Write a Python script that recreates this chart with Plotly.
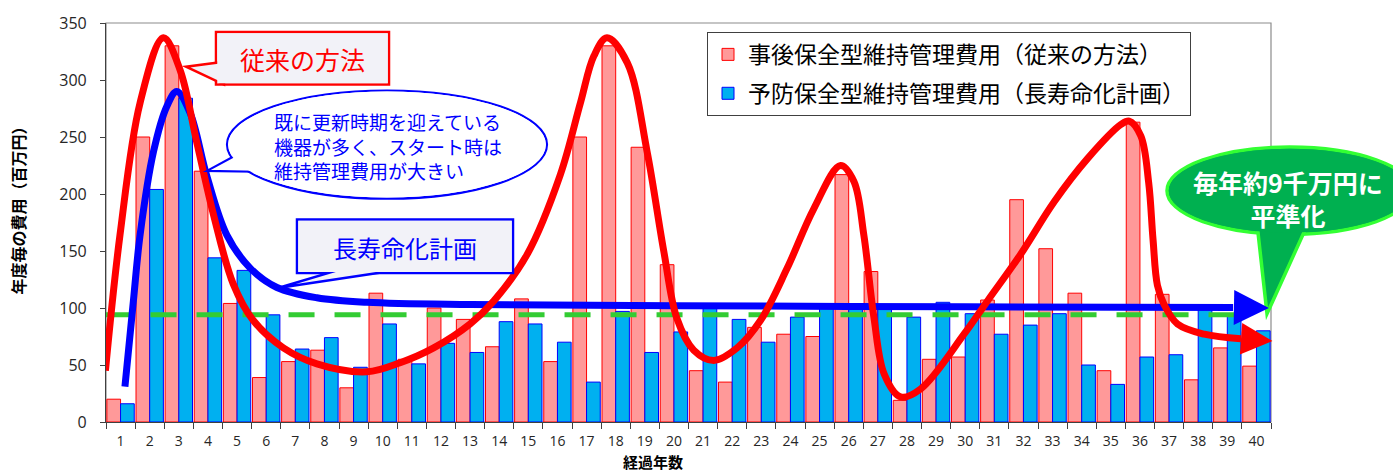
import plotly.graph_objects as go

# ---------------- data ----------------
years = list(range(1, 41))
tick_labels = [str(y) for y in years]

corrective_cost = [20, 250, 330, 220, 104, 39, 53, 63, 30, 113,
                   55, 100, 90, 66, 108, 53, 250, 330, 241, 138,
                   45, 35, 83, 77, 75, 217, 132, 19, 55, 57,
                   107, 195, 152, 113, 45, 263, 112, 37, 65, 49]
preventive_cost = [16, 204, 284, 144, 133, 94, 64, 74, 48, 86,
                   51, 69, 61, 88, 86, 70, 35, 97, 61, 79,
                   100, 90, 70, 92, 100, 100, 100, 92, 105, 95,
                   77, 85, 95, 50, 33, 57, 59, 100, 95, 80]

average_level = 94
avg_x = [0.45, 39.75]

red_curve_x = [0.48, 0.98, 1.67, 2.47, 3.04, 3.62, 4.19, 4.87, 5.56, 6.59, 7.74, 9.46,
               10.6, 11.75, 13.0, 13.81, 14.96, 16.1, 16.79, 17.25, 17.7, 18.4, 19.08,
               19.65, 20.1, 20.68, 21.37, 22.17, 22.97, 23.89, 24.8, 25.72, 26.18, 26.52,
               26.87, 27.22, 27.78, 28.47, 29.96, 30.76, 31.9, 33.05, 34.2, 35.35, 35.63,
               36.03, 36.3, 36.45, 36.6, 36.83, 37.29, 38.21, 39.47]
red_curve_y = [45, 164, 280, 337, 309, 245, 182, 121, 89, 65, 51, 44,
               52, 65, 86, 106, 147, 217, 280, 321, 337, 315, 237,
               150, 91, 63, 54, 65, 89, 135, 187, 225, 211, 164,
               91, 42, 22, 29, 77, 106, 147, 193, 231, 261, 264,
               251, 210, 160, 120, 103, 86, 77, 73]
red_arrow_tip = (40.55, 71)

blue_curve_x = [1.15, 1.44, 1.67, 2.13, 2.59, 2.93, 3.39, 3.96, 4.65, 5.45, 6.37, 7.74,
                9.46, 13.0, 20.0, 30.0, 39.2]
blue_curve_y = [31, 106, 164, 237, 277, 290, 271, 216, 164, 135, 118, 109,
                105, 103, 102, 101, 100.5]
blue_arrow_tip = (40.43, 100)

# ---------------- geometry helpers (pixel -> paper) ----------------
W, H = 1393, 473
L, R, T, B = 106, 1271, 20, 422


def px(x):
    return (x - L) / (R - L)


def py(y):
    return (B - y) / (B - T)


JP = "Noto Sans CJK JP"

fig = go.Figure()

fig.add_trace(go.Bar(
    x=years, y=corrective_cost, name="事後保全型維持管理費用（従来の方法）",
    marker=dict(color="#FF9999", line=dict(color="#FF0000", width=1)),
    legendgroup="a",
))
fig.add_trace(go.Bar(
    x=years, y=preventive_cost, name="予防保全型維持管理費用（長寿命化計画）",
    marker=dict(color="#00B0F0", line=dict(color="#0000FF", width=1)),
    legendgroup="b",
))
fig.add_trace(go.Scatter(
    x=avg_x, y=[average_level, average_level], mode="lines",
    line=dict(color="#33CC33", width=5, dash="26px,20px"),
    showlegend=False, hoverinfo="skip",
))
fig.add_trace(go.Scatter(
    x=blue_curve_x, y=blue_curve_y, mode="lines",
    line=dict(color="#0000FF", width=7, shape="spline", smoothing=1.0),
    showlegend=False, hoverinfo="skip",
))
fig.add_trace(go.Scatter(
    x=red_curve_x, y=red_curve_y, mode="lines",
    line=dict(color="#FF0000", width=7, shape="spline", smoothing=1.0),
    showlegend=False, hoverinfo="skip",
))

shapes = []
ann = []

# plot border (top / right, grey)
shapes.append(dict(type="rect", xref="paper", yref="paper", x0=0, x1=1, y0=0, y1=1,
                   line=dict(color="#8C8C8C", width=1.2), layer="below"))

# --- red callout box "従来の方法"
box_fill = "#F2F2F8"
lw = 2.5
shapes.append(dict(type="rect", xref="paper", yref="paper",
                   x0=px(216), x1=px(389), y0=py(82), y1=py(29),
                   fillcolor=box_fill, line=dict(color="#FF0000", width=lw), layer="above"))
shapes.append(dict(type="path", xref="paper", yref="paper",
                   path=f"M {px(224)},{py(59)} L {px(186)},{py(64)} L {px(224)},{py(82)} Z",
                   fillcolor=box_fill, line=dict(color="#FF0000", width=lw), layer="above"))
shapes.append(dict(type="rect", xref="paper", yref="paper",
                   x0=px(216 + lw / 2), x1=px(389 - lw / 2), y0=py(82 - lw / 2), y1=py(29 + lw / 2),
                   fillcolor=box_fill, line=dict(width=0), layer="above"))
ann.append(dict(xref="paper", yref="paper", x=px(302), y=py(56), text="従来の方法",
                xanchor="center", yanchor="middle",
                showarrow=False, font=dict(family=JP, size=25, color="#FF0000")))

# --- blue ellipse callout
lw2 = 2.2
shapes.append(dict(type="circle", xref="paper", yref="paper",
                   x0=px(227), x1=px(547), y0=py(197), y1=py(88),
                   fillcolor="white", line=dict(color="#0000FF", width=lw2), layer="above"))
shapes.append(dict(type="path", xref="paper", yref="paper",
                   path=f"M {px(240)},{py(151)} L {px(207)},{py(169)} L {px(265)},{py(170)} Z",
                   fillcolor="white", line=dict(color="#0000FF", width=lw2), layer="above"))
shapes.append(dict(type="circle", xref="paper", yref="paper",
                   x0=px(227 + lw2 / 2), x1=px(547 - lw2 / 2), y0=py(197 - lw2 / 2), y1=py(88 + lw2 / 2),
                   fillcolor="white", line=dict(width=0), layer="above"))
ann.append(dict(xref="paper", yref="paper", x=px(272), y=py(144), xanchor="left", yanchor="middle",
                text="既に更新時期を迎えている<br>機器が多く、スタート時は<br>維持管理費用が大きい",
                align="left", showarrow=False,
                font=dict(family=JP, size=19, color="#0000FF")))

# --- blue box "長寿命化計画"
shapes.append(dict(type="rect", xref="paper", yref="paper",
                   x0=px(297), x1=px(513), y0=py(272), y1=py(218),
                   fillcolor=box_fill, line=dict(color="#0000FF", width=lw), layer="above"))
shapes.append(dict(type="path", xref="paper", yref="paper",
                   path=f"M {px(348)},{py(266)} L {px(278)},{py(287)} L {px(416)},{py(266)} Z",
                   fillcolor=box_fill, line=dict(color="#0000FF", width=lw), layer="above"))
shapes.append(dict(type="rect", xref="paper", yref="paper",
                   x0=px(297 + lw / 2), x1=px(513 - lw / 2), y0=py(272 - lw / 2), y1=py(218 + lw / 2),
                   fillcolor=box_fill, line=dict(width=0), layer="above"))
ann.append(dict(xref="paper", yref="paper", x=px(405), y=py(246), text="長寿命化計画",
                xanchor="center", yanchor="middle",
                showarrow=False, font=dict(family=JP, size=24, color="#0000FF")))

# --- green ellipse callout
lw3 = 3.5
g_fill = "#00B050"
g_line = "#33FF33"
shapes.append(dict(type="circle", xref="paper", yref="paper",
                   x0=px(1167), x1=px(1412), y0=py(233), y1=py(145),
                   fillcolor=g_fill, line=dict(color=g_line, width=lw3), layer="above"))
shapes.append(dict(type="path", xref="paper", yref="paper",
                   path=f"M {px(1257)},{py(222)} L {px(1267)},{py(313)} L {px(1308)},{py(222)} Z",
                   fillcolor=g_fill, line=dict(color=g_line, width=lw3), layer="above"))
shapes.append(dict(type="circle", xref="paper", yref="paper",
                   x0=px(1167 + lw3 / 2), x1=px(1412 - lw3 / 2), y0=py(233 - lw3 / 2), y1=py(145 + lw3 / 2),
                   fillcolor=g_fill, line=dict(width=0), layer="above"))
ann.append(dict(xref="paper", yref="paper", x=px(1288), y=py(197),
                xanchor="center", yanchor="middle",
                text="<b>毎年約9千万円に<br>平準化</b>", showarrow=False,
                font=dict(family=JP, size=25, color="white")))

# --- arrow heads on the curves
ann.append(dict(x=red_arrow_tip[0], y=red_arrow_tip[1], ax=red_curve_x[-1], ay=red_curve_y[-1],
                xref="x", yref="y", axref="x", ayref="y", text="", showarrow=True,
                arrowhead=2, arrowsize=0.9, arrowwidth=7, arrowcolor="#FF0000"))
ann.append(dict(x=blue_arrow_tip[0], y=blue_arrow_tip[1], ax=blue_curve_x[-1], ay=blue_curve_y[-1],
                xref="x", yref="y", axref="x", ayref="y", text="", showarrow=True,
                arrowhead=2, arrowsize=1.0, arrowwidth=7, arrowcolor="#0000FF"))

# --- axis titles
ann.append(dict(xref="paper", yref="paper", x=px(653), y=py(461.5), text="<b>経過年数</b>",
                xanchor="center", yanchor="middle", borderpad=0,
                showarrow=False, font=dict(family=JP, size=15, color="#000000")))
ann.append(dict(xref="paper", yref="paper", x=px(18), y=py(205), text="<b>年度毎の費用（百万円）</b>",
                xanchor="center", yanchor="middle",
                textangle=-90, showarrow=False, font=dict(family=JP, size=16, color="#000000")))

fig.update_layout(
    width=W, height=H,
    margin=dict(l=L, r=W - R, t=T, b=H - B),
    paper_bgcolor="white", plot_bgcolor="white",
    barmode="group", bargap=0.06, bargroupgap=0,
    font=dict(family=JP, color="#000000"),
    shapes=shapes, annotations=ann,
    legend=dict(x=px(707), y=py(29), xanchor="left", yanchor="top",
                bgcolor="white", bordercolor="#404040", borderwidth=1,
                font=dict(family=JP, size=23, color="#000000"),
                traceorder="grouped", tracegroupgap=6),
    showlegend=True,
)
fig.update_xaxes(
    range=[0.5, 40.5], tickmode="array", tickvals=years, ticktext=tick_labels,
    ticks="outside", ticklen=6, tickcolor="rgba(0,0,0,0)",
    tickfont=dict(family="Open Sans", size=14, color="#262626"),
    showline=True, linecolor="#404040", linewidth=1.2, showgrid=False, zeroline=False,
    minor=dict(tickmode="array", tickvals=[y + 0.5 for y in [0] + years],
               ticks="outside", ticklen=6, tickcolor="#404040", tickwidth=1.2),
)
fig.update_yaxes(
    range=[0, 350], tickmode="linear", tick0=0, dtick=50,
    ticks="outside", ticklen=5, tickcolor="#404040", ticklabelstandoff=10,
    tickfont=dict(family="Open Sans", size=16, color="#262626"),
    showline=True, linecolor="#404040", linewidth=1.2, showgrid=False, zeroline=False,
)

fig.write_html("out.html", config={"displayModeBar": False},
               post_script="document.body.style.margin='0px';")
